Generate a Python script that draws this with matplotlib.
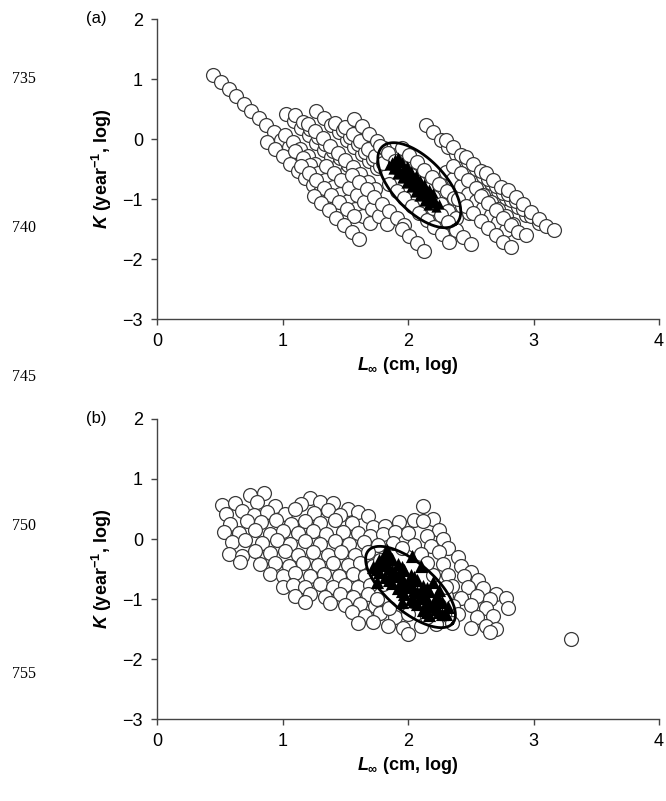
import matplotlib
matplotlib.use('Agg')
import matplotlib.pyplot as plt
import numpy as np

plt.rcParams['font.family'] = ['Liberation Sans', 'DejaVu Sans']
plt.rcParams['mathtext.fontset'] = 'custom'
plt.rcParams['mathtext.it'] = 'Liberation Sans:italic:bold'
plt.rcParams['mathtext.rm'] = 'Liberation Sans:bold'
plt.rcParams['mathtext.bf'] = 'Liberation Sans:bold'

# ---- panel (a): log Linf, log K of the simulated sets (open circles) ----
circles_a = [
    # left tail
    (0.45, 1.07), (0.51, 0.95), (0.57, 0.83), (0.63, 0.71), (0.69, 0.59), (0.75, 0.47),
    (0.81, 0.35), (0.87, 0.23), (0.93, 0.11), (0.99, -0.01), (1.05, -0.13), (1.11, -0.25),
    # left mass
    (1.03, 0.42), (1.09, 0.30), (1.15, 0.18), (1.21, 0.06), (1.27, -0.06), (1.33, -0.18),
    (1.39, -0.30), (1.45, -0.42), (1.51, -0.54),
    (1.10, 0.40), (1.16, 0.28), (1.22, 0.16), (1.28, 0.04), (1.34, -0.08), (1.40, -0.20),
    (1.46, -0.32), (1.52, -0.44), (1.58, -0.56), (1.64, -0.68),
    (0.88, -0.05), (0.94, -0.17), (1.00, -0.29), (1.06, -0.41), (1.12, -0.53), (1.18, -0.65),
    (1.24, -0.77), (1.30, -0.89), (1.36, -1.01),
    (1.02, 0.07), (1.08, -0.05), (1.14, -0.17), (1.20, -0.29), (1.26, -0.41), (1.32, -0.53),
    (1.38, -0.65), (1.44, -0.77), (1.50, -0.89), (1.56, -1.01), (1.62, -1.13),
    (1.10, -0.20), (1.16, -0.32), (1.22, -0.44), (1.28, -0.56), (1.34, -0.68), (1.40, -0.80),
    (1.46, -0.92), (1.52, -1.04), (1.58, -1.16), (1.64, -1.28), (1.70, -1.40),
    (1.27, 0.47), (1.33, 0.35), (1.39, 0.23), (1.45, 0.11), (1.51, -0.01), (1.57, -0.13),
    (1.63, -0.25), (1.69, -0.37), (1.75, -0.49),
    (1.20, 0.25), (1.26, 0.13), (1.32, 0.01), (1.38, -0.11), (1.44, -0.23), (1.50, -0.35),
    (1.56, -0.47), (1.62, -0.59), (1.68, -0.71), (1.74, -0.83),
    (1.42, 0.27), (1.48, 0.15), (1.54, 0.03), (1.60, -0.09), (1.66, -0.21), (1.72, -0.33),
    (1.78, -0.45), (1.84, -0.57),
    (1.50, 0.20), (1.56, 0.08), (1.62, -0.04), (1.68, -0.16), (1.74, -0.28), (1.80, -0.40),
    (1.57, 0.33), (1.63, 0.21), (1.69, 0.09), (1.75, -0.03), (1.81, -0.15), (1.87, -0.27),
    (1.93, -0.39),
    (1.15, -0.45), (1.21, -0.57), (1.27, -0.69), (1.33, -0.81), (1.39, -0.93), (1.45, -1.05),
    (1.51, -1.17), (1.57, -1.29),
    (1.25, -0.95), (1.31, -1.07), (1.37, -1.19), (1.43, -1.31), (1.49, -1.43), (1.55, -1.55),
    (1.61, -1.67),
    (1.35, -0.45), (1.41, -0.57), (1.47, -0.69), (1.53, -0.81), (1.59, -0.93), (1.65, -1.05),
    (1.71, -1.17), (1.77, -1.29), (1.83, -1.41),
    (1.55, -0.60), (1.61, -0.72), (1.67, -0.84), (1.73, -0.96), (1.79, -1.08), (1.85, -1.20),
    (1.91, -1.32), (1.97, -1.44),
    # around the ellipse
    (1.78, -0.12), (1.84, -0.24), (1.90, -0.36), (1.96, -0.48), (2.02, -0.60), (2.08, -0.72),
    (2.14, -0.84), (2.20, -0.96), (2.26, -1.08), (2.32, -1.20), (2.38, -1.32),
    (1.95, -0.15), (2.01, -0.27), (2.07, -0.39), (2.13, -0.51), (2.19, -0.63), (2.25, -0.75),
    (2.31, -0.87), (2.37, -0.99), (2.43, -1.11), (2.49, -1.23),
    (1.85, -0.75), (1.91, -0.87), (1.97, -0.99), (2.03, -1.11), (2.09, -1.23), (2.15, -1.35),
    (2.21, -1.47), (2.27, -1.59), (2.33, -1.71),
    (1.95, -1.50), (2.01, -1.62), (2.07, -1.74), (2.13, -1.86),
    (2.20, -1.15), (2.26, -1.27), (2.32, -1.39), (2.38, -1.51), (2.44, -1.63), (2.50, -1.75),
    # right cluster
    (2.14, 0.23), (2.20, 0.11), (2.26, -0.01), (2.32, -0.13), (2.38, -0.25), (2.44, -0.37),
    (2.50, -0.49), (2.56, -0.61), (2.62, -0.73), (2.68, -0.85),
    (2.30, -0.02), (2.36, -0.14), (2.42, -0.26), (2.48, -0.38), (2.54, -0.50), (2.60, -0.62),
    (2.66, -0.74), (2.72, -0.86), (2.78, -0.98),
    (2.46, -0.30), (2.52, -0.42), (2.58, -0.54), (2.64, -0.66), (2.70, -0.78), (2.76, -0.90),
    (2.82, -1.02), (2.88, -1.14), (2.94, -1.26),
    (2.62, -0.56), (2.68, -0.68), (2.74, -0.80), (2.80, -0.92), (2.86, -1.04), (2.92, -1.16),
    (2.98, -1.28), (3.04, -1.40),
    (2.80, -0.85), (2.86, -0.97), (2.92, -1.09), (2.98, -1.21), (3.04, -1.33), (3.10, -1.45),
    (3.16, -1.52),
    (2.30, -0.55), (2.36, -0.67), (2.42, -0.79), (2.48, -0.91), (2.54, -1.03), (2.60, -1.15),
    (2.66, -1.27), (2.72, -1.39), (2.78, -1.51),
    (2.36, -0.45), (2.42, -0.57), (2.48, -0.69), (2.54, -0.81), (2.60, -0.93), (2.66, -1.05),
    (2.72, -1.17), (2.78, -1.29), (2.84, -1.41),
    (2.40, -1.00), (2.46, -1.12), (2.52, -1.24), (2.58, -1.36), (2.64, -1.48), (2.70, -1.60),
    (2.76, -1.72), (2.82, -1.80),
    (2.58, -0.95), (2.64, -1.07), (2.70, -1.19), (2.76, -1.31), (2.82, -1.43), (2.88, -1.55),
    (2.94, -1.60),
]

# observed estimates (filled triangles)
triangles_a = [
    (1.87, -0.38), (1.905, -0.455), (1.94, -0.53), (1.975, -0.605), (2.01, -0.68),
    (2.045, -0.755), (2.08, -0.83), (2.115, -0.905), (2.15, -0.98), (2.185, -1.055),
    (2.22, -1.13),
    (1.895, -0.33), (1.93, -0.405), (1.965, -0.48), (2.00, -0.555), (2.035, -0.63),
    (2.07, -0.705), (2.105, -0.78), (2.14, -0.855), (2.175, -0.93), (2.21, -1.005),
    (2.245, -1.08),
    (1.845, -0.43), (1.88, -0.505), (1.915, -0.58), (1.95, -0.655), (1.985, -0.73),
    (2.02, -0.805), (2.055, -0.88), (2.09, -0.955), (2.125, -1.03), (2.16, -1.105),
    (1.92, -0.30), (1.955, -0.375), (1.99, -0.45), (2.025, -0.525), (2.06, -0.60),
    (2.095, -0.675), (2.13, -0.75), (2.165, -0.825), (2.20, -0.90),
    (1.885, -0.43), (1.92, -0.50), (1.955, -0.57), (1.99, -0.64), (2.025, -0.71),
    (2.06, -0.78), (2.095, -0.85), (2.13, -0.92), (2.165, -0.99), (2.20, -1.06),
]

# ---- panel (b) ----
circles_b = [
    (0.74, 0.74), (0.85, 0.76), (1.22, 0.68),
    (0.52, 0.56), (0.62, 0.60), (0.80, 0.62), (0.94, 0.55), (1.15, 0.58), (1.30, 0.62),
    (1.40, 0.60), (1.52, 0.50), (2.12, 0.55),
    (0.55, 0.42), (0.68, 0.47), (0.77, 0.40), (0.88, 0.45), (1.02, 0.42), (1.10, 0.50),
    (1.25, 0.44), (1.36, 0.48), (1.46, 0.40), (1.60, 0.45), (1.68, 0.38), (2.05, 0.32),
    (2.20, 0.34),
    (0.58, 0.25), (0.72, 0.30), (0.83, 0.28), (0.95, 0.32), (1.07, 0.25), (1.18, 0.30),
    (1.30, 0.27), (1.42, 0.32), (1.55, 0.26), (1.72, 0.20), (1.82, 0.22), (1.93, 0.28),
    (2.12, 0.30), (2.25, 0.15),
    (0.53, 0.12), (0.65, 0.10), (0.78, 0.15), (0.90, 0.08), (1.00, 0.14), (1.12, 0.10),
    (1.24, 0.14), (1.35, 0.08), (1.48, 0.12), (1.60, 0.10), (1.70, 0.05), (1.80, 0.08),
    (1.90, 0.12), (2.00, 0.10), (2.15, 0.05), (2.28, 0.00),
    (0.60, -0.05), (0.70, -0.02), (0.84, -0.06), (0.96, -0.02), (1.06, -0.08), (1.18, -0.03),
    (1.30, -0.08), (1.42, -0.04), (1.53, -0.08), (1.65, -0.05), (1.76, -0.10), (1.88, -0.06),
    (2.05, -0.10), (2.18, -0.12), (2.32, -0.15),
    (0.57, -0.25), (0.68, -0.28), (0.78, -0.20), (0.90, -0.24), (1.02, -0.20), (1.12, -0.26),
    (1.24, -0.22), (1.36, -0.27), (1.47, -0.22), (1.58, -0.26), (1.68, -0.22), (2.10, -0.25),
    (2.25, -0.22), (2.40, -0.30),
    (0.66, -0.38), (0.82, -0.42), (0.94, -0.40), (1.05, -0.45), (1.16, -0.40), (1.28, -0.44),
    (1.40, -0.40), (1.52, -0.44), (1.62, -0.40), (1.72, -0.45), (2.28, -0.42), (2.42, -0.45),
    (2.50, -0.55),
    (0.90, -0.58), (1.00, -0.62), (1.10, -0.56), (1.22, -0.62), (1.33, -0.58), (1.45, -0.62),
    (1.56, -0.58), (1.66, -0.62), (2.32, -0.60), (2.45, -0.62), (2.56, -0.68),
    (1.00, -0.80), (1.08, -0.76), (1.18, -0.80), (1.30, -0.75), (1.40, -0.80), (1.50, -0.76),
    (1.60, -0.80), (1.70, -0.76), (2.35, -0.78), (2.48, -0.80), (2.60, -0.82), (2.70, -0.92),
    (1.10, -0.95), (1.22, -0.92), (1.34, -0.96), (1.46, -0.92), (1.56, -0.96), (1.68, -0.92),
    (2.30, -0.95), (2.42, -0.98), (2.55, -0.95), (2.65, -1.00), (2.78, -0.98),
    (1.18, -1.05), (1.38, -1.07), (1.50, -1.10), (1.62, -1.08), (1.74, -1.12), (2.36, -1.12),
    (2.50, -1.10), (2.62, -1.15), (2.80, -1.15),
    (1.55, -1.22), (1.66, -1.28), (1.78, -1.24), (1.90, -1.30), (2.25, -1.28), (2.40, -1.25),
    (2.55, -1.30), (2.68, -1.28),
    (1.60, -1.40), (1.72, -1.38), (1.84, -1.45), (1.96, -1.48), (2.10, -1.45), (2.22, -1.42),
    (2.35, -1.40), (2.50, -1.48), (2.62, -1.45), (2.70, -1.50),
    (2.00, -1.58), (2.65, -1.55),
    (1.78, -0.35), (1.85, -0.55), (1.80, -0.75), (1.75, -1.00), (1.85, -1.15), (2.00, -1.25),
    (2.15, -1.30), (2.25, -1.10), (2.20, -0.60), (2.15, -0.40), (1.95, -0.15), (2.30, -0.80),
    (3.30, -1.67),
]

triangles_b = [
    (1.77, -0.35), (1.82, -0.44), (1.87, -0.53), (1.92, -0.62), (1.97, -0.71), (2.02, -0.80),
    (2.07, -0.89), (2.12, -0.98), (2.17, -1.07), (2.22, -1.16), (2.27, -1.25),
    (1.82, -0.24), (1.87, -0.33), (1.92, -0.42), (1.97, -0.51), (2.02, -0.60), (2.07, -0.69),
    (2.12, -0.78), (2.17, -0.87), (2.22, -0.96), (2.27, -1.05), (2.32, -1.14),
    (1.72, -0.46), (1.77, -0.55), (1.82, -0.64), (1.87, -0.73), (1.92, -0.82), (1.97, -0.91),
    (2.02, -1.00), (2.07, -1.09), (2.12, -1.18), (2.17, -1.27),
    (1.83, -0.18), (2.03, -0.28), (2.10, -0.45), (1.75, -0.72), (2.20, -0.72), (2.25, -0.85),
    (1.95, -1.05), (2.30, -1.25),
    (1.80, -0.40), (1.85, -0.49), (1.90, -0.58), (1.95, -0.67), (2.00, -0.76), (2.05, -0.85),
    (2.10, -0.94), (2.15, -1.03), (2.20, -1.12), (2.25, -1.21),
    (1.85, -0.30), (1.95, -0.46), (2.05, -0.64), (2.15, -0.82), (2.25, -1.00),
    (1.75, -0.50), (1.85, -0.68), (1.95, -0.86), (2.05, -1.04), (2.15, -1.22),
]

# confidence ellipses: centre, half major axis vector, half minor axis vector (data units)
ellipse_a = ((2.09, -0.77), (0.295, -0.642), (0.149, 0.300))
ellipse_b = ((2.02, -0.80), (0.335, -0.608), (0.126, 0.300))

panel_labels = ['(a)', '(b)']
line_numbers = ['735', '740', '745', '750', '755']
line_number_y = [79, 228, 377, 526, 674]

fig = plt.figure(figsize=(6.66, 8.01), dpi=100)
ax_a = fig.add_axes([157 / 666, 1 - 319 / 801, 502 / 666, 300 / 801])
ax_b = fig.add_axes([157 / 666, 1 - 719 / 801, 502 / 666, 300 / 801])

edge = '#3a3a3a'
for ax, circ, tri, ell, lab, ts in zip([ax_a, ax_b], [circles_a, circles_b],
                                       [triangles_a, triangles_b],
                                       [ellipse_a, ellipse_b], panel_labels, [55, 90]):
    c = np.array(circ)
    t = np.array(tri)
    ax.scatter(c[:, 0], c[:, 1], s=100, facecolor='white', edgecolor=edge,
               linewidth=0.9, zorder=2)
    ax.scatter(t[:, 0], t[:, 1], s=ts, marker='^', color='black', linewidth=0, zorder=3)
    (cx, cy), (ux, uy), (vx, vy) = ell
    th = np.linspace(0, 2 * np.pi, 300)
    ax.plot(cx + ux * np.cos(th) + vx * np.sin(th), cy + uy * np.cos(th) + vy * np.sin(th),
            color='black', linewidth=2.0, zorder=4)

    ax.set_xlim(0, 4)
    ax.set_ylim(-3, 2)
    ax.set_xticks([0, 1, 2, 3, 4])
    ax.set_yticks([-3, -2, -1, 0, 1, 2])
    ax.set_yticklabels(['\u22123', '\u22122', '\u22121', '0', '1', '2'])
    for s in ['top', 'right']:
        ax.spines[s].set_visible(False)
    for s in ['left', 'bottom']:
        ax.spines[s].set_color('#444444')
        ax.spines[s].set_linewidth(1.0)
    ax.tick_params(direction='out', length=4, width=1, color='#444444',
                   labelsize=13, pad=6)
    ax.set_xlabel(r'$L_{\infty}$ (cm, log)', fontsize=13, fontweight='bold', labelpad=4)
    ax.set_ylabel(r'$K$ (year$^{\mathbf{-1}}$, log)', fontsize=13, fontweight='bold',
                  labelpad=6)
    ax.text(-0.1, 1.0, lab, transform=ax.transAxes, fontsize=12, ha='right', va='center')

for num, yy in zip(line_numbers, line_number_y):
    fig.text(24 / 666, 1 - yy / 801, num, fontsize=11.5, family='Liberation Serif',
             ha='center', va='center')

fig.savefig('out.png', dpi=100)
